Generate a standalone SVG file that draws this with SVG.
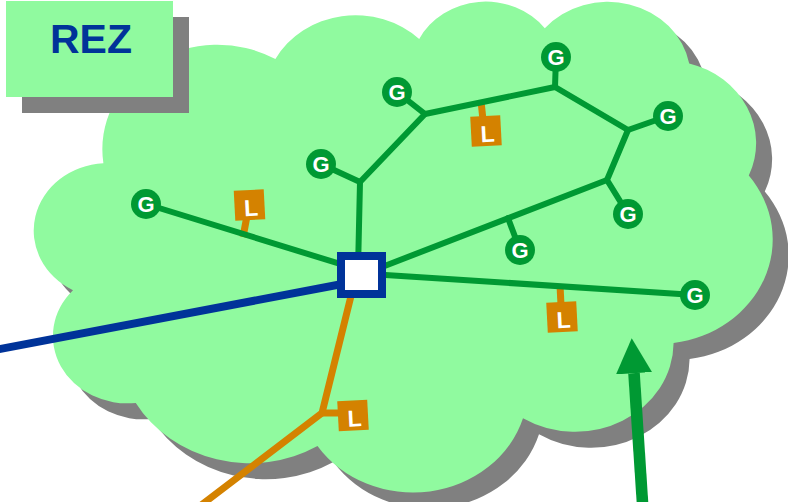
<svg xmlns="http://www.w3.org/2000/svg" xmlns:xlink="http://www.w3.org/1999/xlink" width="788" height="502" viewBox="0 0 788 502">
<style>
.shadow{fill:#808080}
.pale{fill:#90FA9F}
.gl{stroke:#009933;stroke-width:6;stroke-linecap:round;stroke-linejoin:round;fill:none}
.ol{stroke:#D48200;stroke-width:7;fill:none;stroke-linejoin:miter}
.bl{stroke:#003399;stroke-width:8;fill:none}
.gc{fill:#009933}
.gt{font-family:"Liberation Sans",Arial,sans-serif;font-weight:bold;font-size:22px;fill:#FFFFFF;text-anchor:middle}
.lb{fill:#D48200}
.lt{font-family:"Liberation Sans",Arial,sans-serif;font-weight:bold;font-size:23px;fill:#FFFFFF;text-anchor:middle}
</style>
<defs>
<path id="cloudPath" d="M103.4,163.2 A114.9,104.4 0 0 1 275.4,59.1 A90.8,82.6 0 0 1 419.2,39.0 A74.3,67.5 0 0 1 544.8,28.2 A82.7,74.9 0 0 1 689.2,63.4 A90.8,82.6 0 0 1 748.8,175.6 A115.3,104.7 0 0 1 673.6,343.1 A98.5,89.4 0 0 1 523.0,418.2 A114.9,104.7 0 0 1 317.5,446.0 A131.4,119.8 0 0 1 135.8,402.9 A74.2,67.2 0 0 1 73.0,290.2 A74.0,67.5 0 0 1 103.4,163.2 Z"/>
<marker id="arrowHead" markerUnits="userSpaceOnUse" markerWidth="36" markerHeight="36" refX="0" refY="18" orient="auto" viewBox="0 0 36 36">
<path d="M0,0 L35,18 L0,36 Z" fill="#009933"/>
</marker>
</defs>

<g id="cloud">
<use xlink:href="#cloudPath" href="#cloudPath" class="shadow" transform="translate(16,16)"/>
<use xlink:href="#cloudPath" href="#cloudPath" class="pale"/>
</g>

<g id="rez">
<rect x="22" y="17" width="167" height="96" class="shadow"/>
<rect x="6" y="1" width="167" height="96" class="pale"/>
<text x="91" y="53" font-family="'Liberation Sans',Arial,sans-serif" font-weight="bold" font-size="41" fill="#003399" text-anchor="middle">REZ</text>
</g>

<g id="connectors">
<line class="bl" x1="-2" y1="349.4" x2="362" y2="280.2"/>
<polyline class="ol" points="351,296 322,413 200,506"/>
<line class="ol" x1="322" y1="413" x2="342" y2="413"/>
<line class="ol" x1="243" y1="237" x2="247" y2="216"/>
<line class="ol" x1="481" y1="101" x2="483" y2="120"/>
<line class="ol" x1="560" y1="285" x2="561" y2="305"/>
<line class="gl" x1="146" y1="204" x2="362" y2="270.7"/>
<polyline class="gl" points="358,270 360,182 321,164"/>
<polyline class="gl" points="360,182 425,114 397,92"/>
<polyline class="gl" points="425,114 555,87 556,57"/>
<polyline class="gl" points="555,87 628,130 668,116"/>
<polyline class="gl" points="628,130 607,180 628,214"/>
<line class="gl" x1="607" y1="180" x2="362" y2="274.7"/>
<line class="gl" x1="508" y1="218" x2="520" y2="250"/>
<line class="gl" x1="362" y1="273.4" x2="695" y2="295"/>
<line x1="642.7" y1="506" x2="634" y2="373.2" stroke="#009933" stroke-width="11.6" marker-end="url(#arrowHead)"/>
</g>

<g id="hub">
<rect x="341" y="256" width="41" height="38" fill="#FFFFFF" stroke="#003399" stroke-width="8"/>
</g>

<g id="G1"><circle class="gc" cx="146" cy="204" r="15"/><text class="gt" x="146" y="212">G</text></g>
<g id="G2"><circle class="gc" cx="321" cy="164" r="15"/><text class="gt" x="321" y="172">G</text></g>
<g id="G3"><circle class="gc" cx="397" cy="92" r="15"/><text class="gt" x="397" y="100">G</text></g>
<g id="G4"><circle class="gc" cx="556" cy="57" r="15"/><text class="gt" x="556" y="65">G</text></g>
<g id="G5"><circle class="gc" cx="668" cy="116" r="15"/><text class="gt" x="668" y="124">G</text></g>
<g id="G6"><circle class="gc" cx="628" cy="214" r="15"/><text class="gt" x="628" y="222">G</text></g>
<g id="G7"><circle class="gc" cx="520" cy="250" r="15"/><text class="gt" x="520" y="258">G</text></g>
<g id="G8"><circle class="gc" cx="695" cy="295" r="15"/><text class="gt" x="695" y="303">G</text></g>

<g id="L1" transform="rotate(-3 249.5 205)"><rect class="lb" x="234.5" y="190" width="30" height="30"/><text class="lt" x="251" y="216">L</text></g>
<g id="L2" transform="rotate(-3 486 131)"><rect class="lb" x="471" y="116" width="30" height="30"/><text class="lt" x="487.5" y="142">L</text></g>
<g id="L3" transform="rotate(-3 562 317)"><rect class="lb" x="547" y="302" width="30" height="30"/><text class="lt" x="563.5" y="328">L</text></g>
<g id="L4" transform="rotate(-3 353 415.5)"><rect class="lb" x="338" y="400.5" width="30" height="30"/><text class="lt" x="354.5" y="426.5">L</text></g>
</svg>
